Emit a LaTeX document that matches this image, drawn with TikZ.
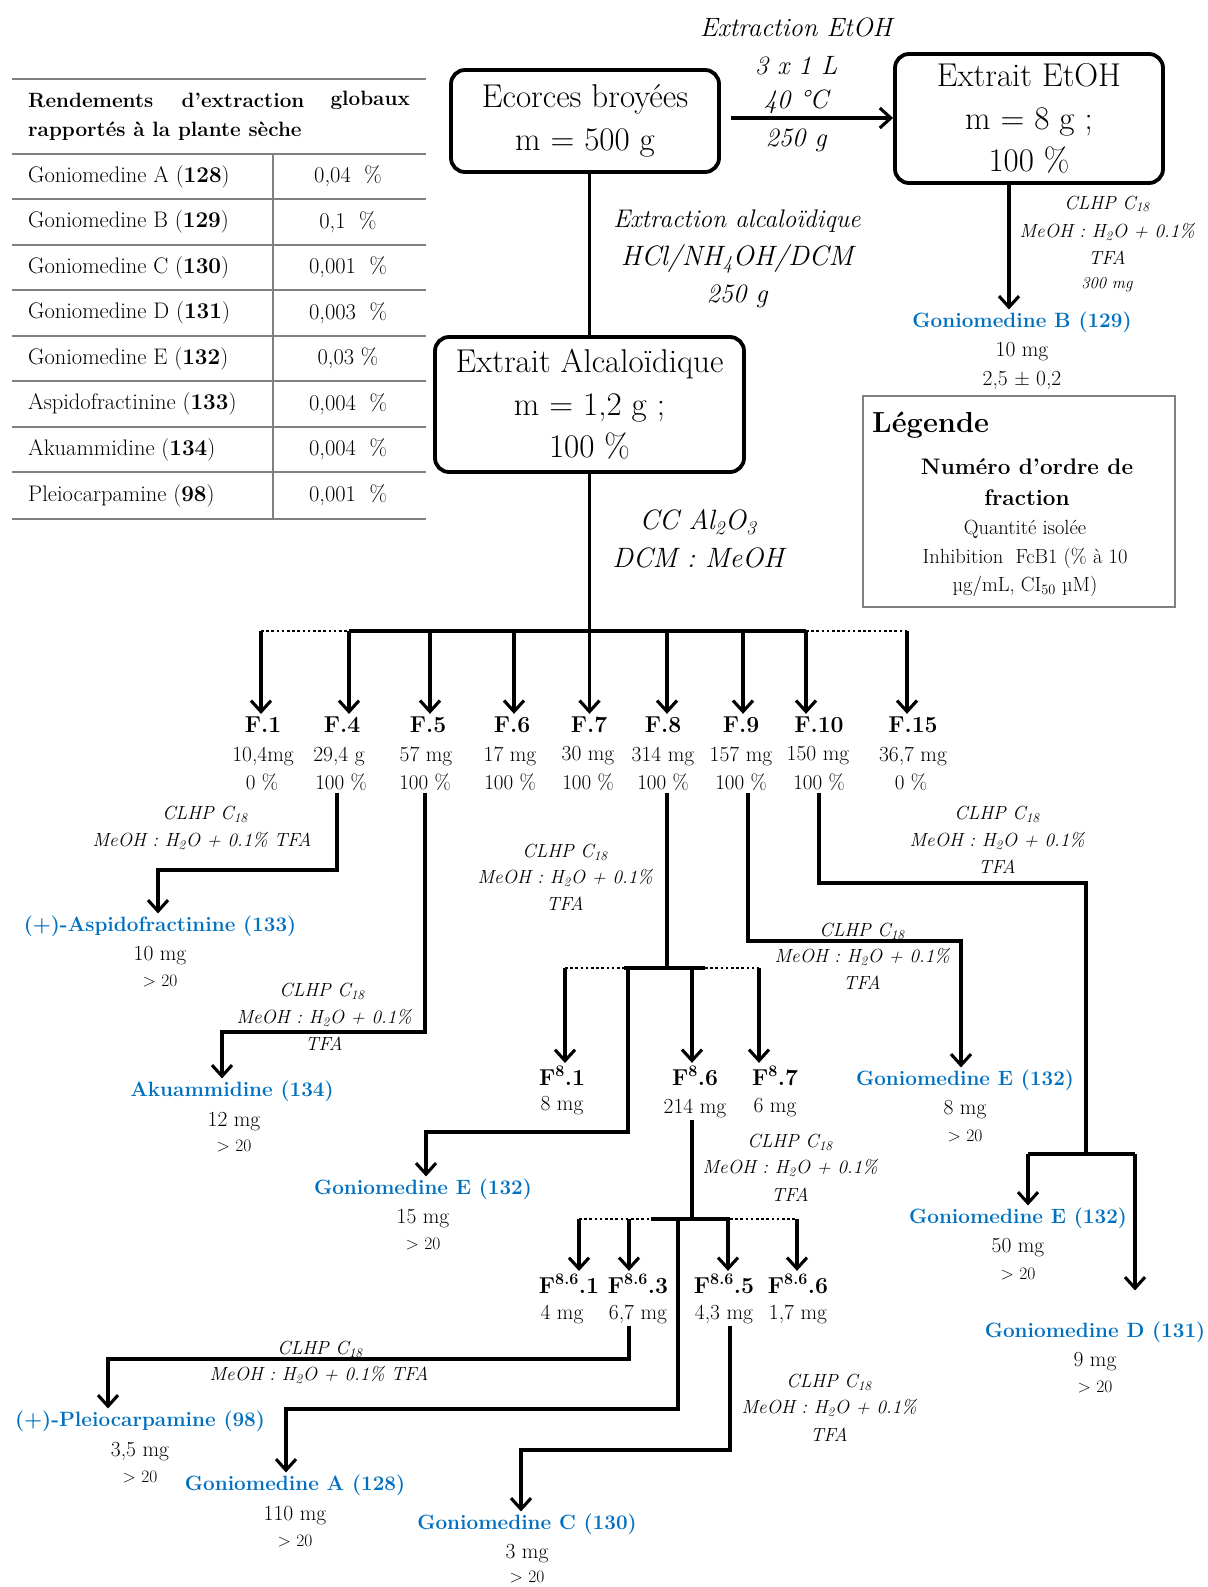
\documentclass[tikz,border=0pt]{standalone}
\usepackage{fontspec}
\usetikzlibrary{arrows.meta,calc}
\definecolor{cblue}{RGB}{0,112,192}
\definecolor{rulegray}{RGB}{128,128,128}
\newcommand\setfz[2]{\fontsize{#1}{#2}\selectfont}
\tikzset{
  box/.style={draw, line width=3.8pt, rounded corners=14pt, align=center, font=\setfz{33}{42.5}, inner sep=0pt},
  conn/.style={line width=3.1pt},
  arr/.style={conn, -{Straight Barb[length=11pt,width=20pt]}},
  dots/.style={line width=2.8pt, dash pattern=on 2.6pt off 2.6pt},
  cond/.style={font=\itshape\setfz{19}{22}, inner sep=1pt},
  bigcond/.style={font=\itshape\setfz{26.5}{30}, inner sep=1pt},
  comp/.style={font=\bfseries\setfz{20.7}{24}, text=cblue, inner sep=2pt},
  qty/.style={font=\setfz{21.5}{24}, inner sep=2pt},
  act/.style={font=\setfz{17.5}{19}, inner sep=1pt},
  frac/.style={font=\bfseries\setfz{23}{25}, inner sep=3pt},
  pct/.style={font=\setfz{21}{22}, inner sep=2pt},
  tab/.style={font=\setfz{22.5}{25}, inner sep=0pt},
  thead/.style={font=\bfseries\setfz{20.7}{24}, inner sep=0pt},
  trule/.style={draw=rulegray, line width=2.2pt},
  leg/.style={align=center, inner sep=1pt}
}
\begin{document}
\begin{tikzpicture}[x=1pt,y=-1pt]
\useasboundingbox (0,0) rectangle (1207,1587);

% ---------- table ----------
\foreach \yy in {79,154,199,245,290,336,381,427,472,519}
  \draw[trule] (12,\yy) -- (426,\yy);
\draw[trule] (273,154) -- (273,519);
\node[thead, anchor=west] (h1a) at (28,100) {Rendements};
\node[thead] (h1b) at (243,100) {d’extraction};
\node[thead, anchor=east] (h1c) at (410,100) {globaux};
\node[thead, anchor=west] (h2) at (28,131) {rapportés à la plante sèche};
\node[tab, anchor=west] (t1) at (28,176.5) {Goniomedine A (\textbf{128})};
\node[tab, anchor=west] (t2) at (28,222) {Goniomedine B (\textbf{129})};
\node[tab, anchor=west] (t3) at (28,267.5) {Goniomedine C (\textbf{130})};
\node[tab, anchor=west] (t4) at (28,313) {Goniomedine D (\textbf{131})};
\node[tab, anchor=west] (t5) at (28,358.5) {Goniomedine E (\textbf{132})};
\node[tab, anchor=west] (t6) at (28,404) {Aspidofractinine (\textbf{133})};
\node[tab, anchor=west] (t7) at (28,449.5) {Akuammidine (\textbf{134})};
\node[tab, anchor=west] (t8) at (28,495.5) {Pleiocarpamine (\textbf{98})};
\node[tab] (v1) at (348,176.5) {0,04~ \%};
\node[tab] (v2) at (348,222) {0,1~ \%};
\node[tab] (v3) at (348,267.5) {0,001~ \%};
\node[tab] (v4) at (348,313) {0,003~ \%};
\node[tab] (v5) at (348,358.5) {0,03 \%};
\node[tab] (v6) at (348,404) {0,004~ \%};
\node[tab] (v7) at (348,449.5) {0,004~ \%};
\node[tab] (v8) at (348,495.5) {0,001~ \%};

% ---------- top boxes ----------
\node[box, minimum width=268, minimum height=102] (ecorces) at (585,121) {Ecorces broyées\\m = 500 g};
\node[box, minimum width=268, minimum height=129] (etoh) at (1029,118.5) {Extrait EtOH\\m = 8 g ;\\100 \%};
\node[box, minimum width=309, minimum height=135] (alc) at (589.5,404.5) {Extrait Alcaloïdique\\m = 1,2 g ;\\100 \%};

\node[bigcond] (e1) at (796,27) {Extraction EtOH};
\node[bigcond] (e2) at (796,66) {3 x 1 L};
\node[bigcond] (e3) at (796,102) {40 °C};
\node[bigcond] (e4) at (796,140) {250 g};
\coordinate (a1) at (731,118);
\draw[arr] (a1) -- (a1 -| etoh.west);

\node[bigcond, font=\itshape\setfz{25.5}{28}] (x1) at (737,221) {Extraction alcaloïdique};
\node[bigcond, font=\itshape\setfz{28}{30}] (x2) at (737,259) {HCl/NH\textsubscript{4}OH/DCM};
\node[bigcond] (x3) at (737,296) {250 g};
\draw[conn] (alc.north |- ecorces.south) -- (alc.north);

% right branch
\node[cond] (r1) at (1107,204) {CLHP C\textsubscript{18}};
\node[cond] (r2) at (1107,232) {MeOH : H\textsubscript{2}O + 0.1\%};
\node[cond] (r3) at (1107,258) {TFA};
\node[cond, font=\itshape\setfz{16.5}{19}] (r4) at (1107,285) {300 mg};
\node[comp] (GB) at (1022,322) {Goniomedine B (129)};
\node[qty] (GBm) at (1022,352) {10 mg};
\node[qty] (GBa) at (1022,380) {2,5 ± 0,2};
\draw[arr] ([xshift=-20pt]etoh.south) -- ([xshift=-13pt]GB.north);

% legend
\node[draw=rulegray, line width=2.4pt, minimum width=312, minimum height=211, inner sep=0pt] (leg) at (1019,501.5) {};
\node[leg, anchor=west, font=\bfseries\setfz{29}{31}] (lg1) at (871,425) {Légende};
\node[leg, font=\bfseries\setfz{22.5}{31}] (lg2) at (1027,482.5) {Numéro d’ordre de\\fraction};
\node[leg, font=\setfz{20.5}{28.5}] (lg3) at (1025,558.5) {Quantité isolée\\Inhibition~ FcB1 (\% à 10\\µg/mL, CI\textsubscript{50} µM)};

% column conditions
\node[bigcond, font=\itshape\setfz{28}{30}] (cc1) at (698,522) {CC Al\textsubscript{2}O\textsubscript{3}};
\node[bigcond, font=\itshape\setfz{28}{30}] (cc2) at (698,558) {DCM : MeOH};

% ---------- fractions ----------
\foreach \n/\xb in {1/261,4/349,5/430,6/514,7/589.5,8/667,9/743,10/806,15/907}
  \coordinate (b\n) at (\xb,631);
\draw[conn] (alc.south) -- (b7);
\draw[conn] (b4) -- (b10);
\draw[dots] (b1) -- (b4);
\draw[dots] (b10) -- (b15);

\node[frac] (F1) at (263,725) {F.1};
\node[frac] (F4) at (342,725) {F.4};
\node[frac] (F5) at (428,725) {F.5};
\node[frac] (F6) at (512,725) {F.6};
\node[frac] (F7) at (589,725) {F.7};
\node[frac] (F8) at (663,725) {F.8};
\node[frac] (F9) at (741,725) {F.9};
\node[frac] (F10) at (819,725) {F.10};
\node[frac] (F15) at (913,725) {F.15};
\foreach \n in {1,4,5,6,7,8,9,10,15}
  \draw[arr] (b\n) -- (b\n |- F\n.north);

\node[qty] (m1) at (263,756) {10,4mg};
\node[qty] (m4) at (339,756) {29,4 g};
\node[qty] (m5) at (426,756) {57 mg};
\node[qty] (m6) at (510,756) {17 mg};
\node[qty] (m7) at (588,756) {30 mg};
\node[qty] (m8) at (663,756) {314 mg};
\node[qty] (m9) at (741,756) {157 mg};
\node[qty] (m10) at (818,756) {150 mg};
\node[qty] (m15) at (913,756) {36,7 mg};

\node[pct] (p1) at (262,782) {0 \%};
\node[pct] (p4) at (341,782) {100 \%};
\node[pct] (p5) at (425,782) {100 \%};
\node[pct] (p6) at (510,782) {100 \%};
\node[pct] (p7) at (588,782) {100 \%};
\node[pct] (p8) at (663,782) {100 \%};
\node[pct] (p9) at (741,782) {100 \%};
\node[pct] (p10) at (819,782) {100 \%};
\node[pct] (p15) at (911,782) {0 \%};

% ---------- F.4 ----------
\node[cond] (c4a) at (205,814) {CLHP C\textsubscript{18}};
\node[cond] (c4b) at (202,841) {MeOH : H\textsubscript{2}O + 0.1\% TFA};
\node[comp] (asp) at (160,926) {(+)-Aspidofractinine (133)};
\node[qty] (aspm) at (160,956) {10 mg};
\node[act] (aspa) at (160,981) {> 20};
\coordinate (k4) at (158,870);
\draw[arr] ([xshift=-4pt]p4.south) |- (k4) -- (k4 |- asp.north);

% ---------- F.5 ----------
\node[cond] (c5a) at (322,991) {CLHP C\textsubscript{18}};
\node[cond] (c5b) at (324,1018) {MeOH : H\textsubscript{2}O + 0.1\%};
\node[cond] (c5c) at (324,1044) {TFA};
\node[comp] (aku) at (232,1091) {Akuammidine (134)};
\node[qty] (akum) at (234,1122) {12 mg};
\node[act] (akua) at (234,1146) {> 20};
\coordinate (k5) at (222,1032);
\draw[arr] (p5.south) |- (k5) -- (k5 |- aku.north);

% ---------- F.8 ----------
\node[cond] (c8a) at (565,852) {CLHP C\textsubscript{18}};
\node[cond] (c8b) at (565,878) {MeOH : H\textsubscript{2}O + 0.1\%};
\node[cond] (c8c) at (565,904) {TFA};
\coordinate (s8) at (667,968);
\draw[conn] ([xshift=4pt]p8.south) -- (s8);
\coordinate (c1) at (565,968);
\coordinate (cL) at (624,968);
\coordinate (cR) at (705,968);
\coordinate (c6) at (692,968);
\coordinate (c7) at (759,968);
\coordinate (cE) at (628,968);
\draw[dots] (c1) -- (cL);
\draw[conn] (cL) -- (cR);
\draw[dots] (cR) -- (c7);
\node[frac] (F81) at (562,1076) {F\textsuperscript{8}.1};
\node[frac] (F86) at (695,1076) {F\textsuperscript{8}.6};
\node[frac] (F87) at (775,1076) {F\textsuperscript{8}.7};
\node[qty] (m81) at (562,1106) {8 mg};
\node[qty] (m86) at (695,1108) {214 mg};
\node[qty] (m87) at (775,1108) {6 mg};
\draw[arr] (c1) -- (c1 |- F81.north);
\draw[arr] (c6) -- (c6 |- F86.north);
\draw[arr] (c7) -- (c7 |- F87.north);
\node[comp] (GE15) at (423,1189) {Goniomedine E (132)};
\node[qty] (GE15m) at (423,1219) {15 mg};
\node[act] (GE15a) at (423,1244) {> 20};
\coordinate (kE) at (426,1132);
\draw[arr] (cE) |- (kE) -- (kE |- GE15.north);

% ---------- F.9 ----------
\node[cond] (c9a) at (862,931) {CLHP C\textsubscript{18}};
\node[cond] (c9b) at (862,957) {MeOH : H\textsubscript{2}O + 0.1\%};
\node[cond] (c9c) at (862,983) {TFA};
\node[comp] (GE8) at (965,1080) {Goniomedine E (132)};
\node[qty] (GE8m) at (965,1110) {8 mg};
\node[act] (GE8a) at (965,1136) {> 20};
\coordinate (k9) at (961,941);
\draw[arr] ([xshift=7pt]p9.south) |- (k9) -- (k9 |- GE8.north);

% ---------- F.10 ----------
\node[cond] (c10a) at (997,814) {CLHP C\textsubscript{18}};
\node[cond] (c10b) at (997,841) {MeOH : H\textsubscript{2}O + 0.1\%};
\node[cond] (c10c) at (997,867) {TFA};
\node[comp] (GE50) at (1018,1218) {Goniomedine E (132)};
\node[qty] (GE50m) at (1018,1248) {50 mg};
\node[act] (GE50a) at (1018,1274) {> 20};
\node[comp] (GD) at (1095,1332) {Goniomedine D (131)};
\node[qty] (GDm) at (1095,1362) {9 mg};
\node[act] (GDa) at (1095,1387) {> 20};
\coordinate (k10) at (1086,883);
\coordinate (j10) at (1086,1154);
\coordinate (jL) at (1028,1154);
\coordinate (jR) at (1135,1154);
\draw[conn] (p10.south) |- (k10) -- (j10);
\draw[conn] (jL) -- (jR);
\draw[arr] (jL) -- (jL |- GE50.north);
\draw[arr] (jR) -- ($(jR |- GD.north)+(0,-29)$);

% ---------- F8.6 ----------
\node[cond] (c86a) at (790,1142) {CLHP C\textsubscript{18}};
\node[cond] (c86b) at (790,1168) {MeOH : H\textsubscript{2}O + 0.1\%};
\node[cond] (c86c) at (790,1195) {TFA};
\coordinate (s86) at (692,1219);
\draw[conn] ([xshift=-3pt]m86.south) -- (s86);
\coordinate (d1) at (579,1219);
\coordinate (d3) at (629,1219);
\coordinate (dL) at (651,1219);
\coordinate (dR) at (730,1219);
\coordinate (d5) at (728,1219);
\coordinate (d6) at (797,1219);
\coordinate (dA) at (678,1219);
\draw[dots] (d1) -- (dL);
\draw[conn] (dL) -- (dR);
\draw[dots] (dR) -- (d6);
\node[frac] (F861) at (569,1284) {F\textsuperscript{8.6}.1};
\node[frac] (F863) at (638,1284) {F\textsuperscript{8.6}.3};
\node[frac] (F865) at (724,1284) {F\textsuperscript{8.6}.5};
\node[frac] (F866) at (798,1284) {F\textsuperscript{8.6}.6};
\node[qty] (m861) at (562,1314) {4 mg};
\node[qty] (m863) at (638,1314) {6,7 mg};
\node[qty] (m865) at (724,1314) {4,3 mg};
\node[qty] (m866) at (798,1314) {1,7 mg};
\draw[arr] (d1) -- (d1 |- F861.north);
\draw[arr] (d3) -- (d3 |- F863.north);
\draw[arr] (d5) -- (d5 |- F865.north);
\draw[arr] (d6) -- (d6 |- F866.north);

\node[comp] (GA) at (295,1485) {Goniomedine A (128)};
\node[qty] (GAm) at (295,1516) {110 mg};
\node[act] (GAa) at (295,1541) {> 20};
\coordinate (kA) at (286,1409);
\draw[arr] (dA) |- (kA) -- (kA |- GA.north);

% F8.6.3
\node[cond] (c863a) at (320,1349) {CLHP C\textsubscript{18}};
\node[cond] (c863b) at (319,1375) {MeOH : H\textsubscript{2}O + 0.1\% TFA};
\node[comp] (GP) at (140,1421) {(+)-Pleiocarpamine (98)};
\node[qty] (GPm) at (140,1452) {3,5 mg};
\node[act] (GPa) at (140,1477) {> 20};
\coordinate (kP) at (108,1359);
\draw[arr] ([xshift=-9pt]m863.south) |- (kP) -- (kP |- GP.north);

% F8.6.5
\node[cond] (c865a) at (829,1382) {CLHP C\textsubscript{18}};
\node[cond] (c865b) at (829,1408) {MeOH : H\textsubscript{2}O + 0.1\%};
\node[cond] (c865c) at (829,1435) {TFA};
\node[comp] (GC) at (527,1524) {Goniomedine C (130)};
\node[qty] (GCm) at (527,1554) {3 mg};
\node[act] (GCa) at (527,1577) {> 20};
\coordinate (kC) at (521,1450);
\draw[arr] ([xshift=6pt]m865.south) |- (kC) -- (kC |- GC.north);

\end{tikzpicture}
\end{document}
